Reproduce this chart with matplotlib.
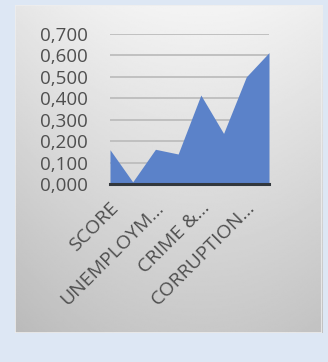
import numpy as np
import matplotlib
matplotlib.use("Agg")
import matplotlib.pyplot as plt
import matplotlib.transforms as mtransforms

# Series values (one point per category)
values = [0.160, 0.010, 0.162, 0.140, 0.415, 0.236, 0.500, 0.613]
# Only every second category label is shown on the axis
tick_labels = ["SCORE", "UNEMPLOYM...", "CRIME &...", "CORRUPTION..."]
y_ticks = [0.0, 0.1, 0.2, 0.3, 0.4, 0.5, 0.6, 0.7]

W, H = 328, 362
fig = plt.figure(figsize=(W / 100, H / 100), dpi=100)
fig.patch.set_facecolor("#dde7f4")

# Gray gradient panel behind the chart
panel = fig.add_axes([15 / W, 1 - 333 / H, (322 - 15) / W, (333 - 5) / H])
ny, nx = 200, 200
yy, xx = np.mgrid[0:1:ny * 1j, 0:1:nx * 1j]
shade = 0.955 - 0.17 * yy - 0.06 * (np.abs(xx - 0.6) * 1.6) ** 2
panel.imshow(shade, cmap="gray", vmin=0, vmax=1, aspect="auto",
             extent=[0, 1, 1, 0], interpolation="bilinear")
panel.set_axis_off()
panel.add_patch(plt.Rectangle((0, 0), 1, 1, transform=panel.transAxes,
                              fill=False, edgecolor="#eeeeee", lw=1.2))

ax = fig.add_axes([110 / W, 1 - 184 / H, (269 - 110) / W, 150 / H])
ax.patch.set_alpha(0)
x = np.arange(len(values))
ax.fill_between(x, values, 0, color="#5b82c9", lw=0, zorder=2)
ax.set_xlim(0, len(values) - 1)
ax.set_ylim(0, 0.7)

for yv in y_ticks[1:]:
    ax.axhline(yv, color="#bdbdbd", lw=1.3, zorder=1)
ax.axhline(0, color="#33383d", lw=2.2, zorder=3, clip_on=False)

for s in ax.spines.values():
    s.set_visible(False)

font = "Open Sans"
ax.set_yticks(y_ticks)
ax.set_yticklabels([f"{v:.3f}".replace(".", ",") for v in y_ticks],
                   fontsize=13.5, color="#4f4f4f", family=font)
ax.tick_params(axis="y", length=0, pad=16)

ax.set_xticks(x[::2])
ax.set_xticklabels(tick_labels, rotation=45, ha="right", va="center",
                   rotation_mode="anchor", fontsize=14, color="#4f4f4f",
                   family=font)
ax.tick_params(axis="x", length=0, pad=15)
offset = mtransforms.ScaledTranslation(6 / 100, 0, fig.dpi_scale_trans)
for lbl in ax.get_xticklabels():
    lbl.set_transform(lbl.get_transform() + offset)

fig.savefig("out.png", dpi=100, facecolor=fig.get_facecolor())
